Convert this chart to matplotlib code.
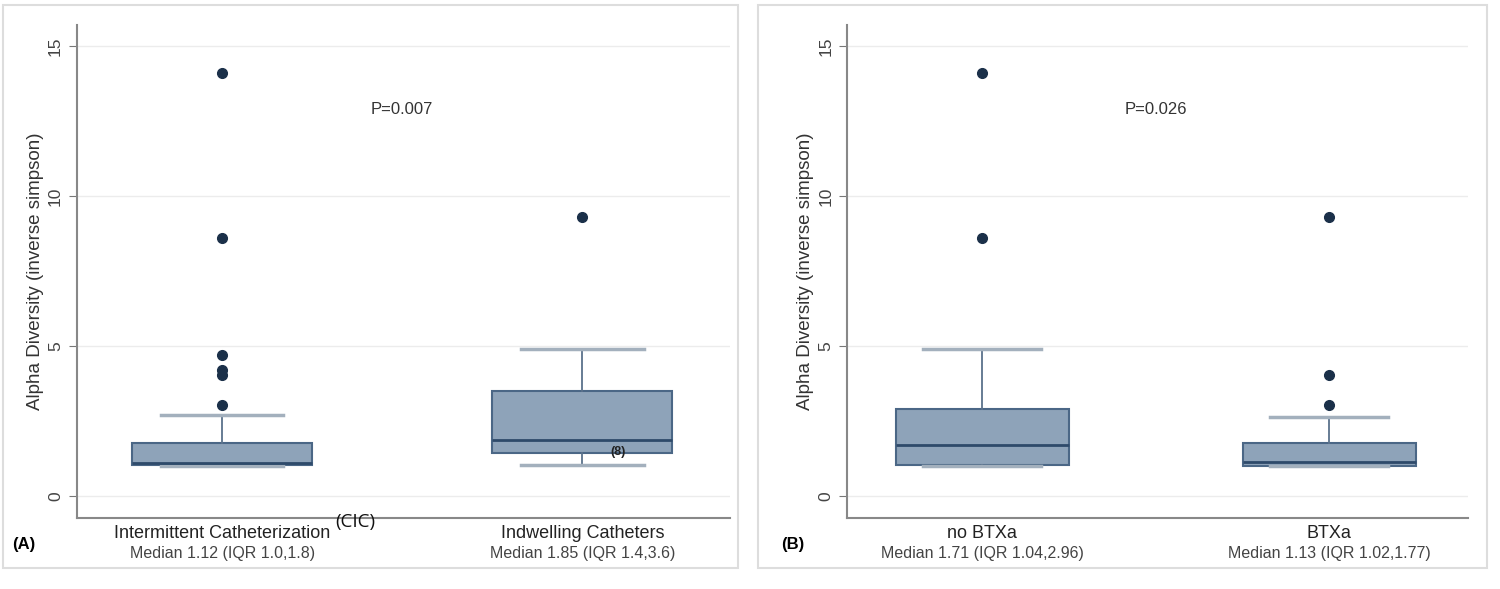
import matplotlib
matplotlib.use('Agg')
import matplotlib.pyplot as plt
from matplotlib.patches import Rectangle

plt.rcParams['font.family'] = ['Liberation Sans', 'DejaVu Sans']

# panel A: catheter type
cath_groups = ['Intermittent Catheterization', 'Indwelling Catheters']
cath_medians = ['Median 1.12 (IQR 1.0,1.8)', 'Median 1.85 (IQR 1.4,3.6)']
cath_whislo = [1.0, 1.03]
cath_q1 = [1.05, 1.43]
cath_med = [1.12, 1.87]
cath_q3 = [1.78, 3.5]
cath_whishi = [2.7, 4.9]
cath_fliers = [[14.1, 8.6, 4.7, 4.2, 4.05, 3.05], [9.3]]
cath_p = 'P=0.007'

# panel B: botox
btx_groups = ['no BTXa', 'BTXa']
btx_medians = ['Median 1.71 (IQR 1.04,2.96)', 'Median 1.13 (IQR 1.02,1.77)']
btx_whislo = [1.0, 1.0]
btx_q1 = [1.04, 1.02]
btx_med = [1.71, 1.13]
btx_q3 = [2.92, 1.77]
btx_whishi = [4.9, 2.65]
btx_fliers = [[14.1, 8.6], [9.3, 4.05, 3.05]]
btx_p = 'P=0.026'

box_fill = '#8ea3b9'
box_edge = '#4b6786'
med_col = '#2e4a6a'
dot_col = '#1b3049'


def make_stats(lo, q1, med, q3, hi, fl):
    return [dict(whislo=lo[i], q1=q1[i], med=med[i], q3=q3[i], whishi=hi[i], fliers=fl[i])
            for i in range(len(med))]


def draw_panel(ax, stats, groups, med_text, ptext, xlim):
    ax.bxp(stats, positions=[1, 2], widths=0.5, capwidths=0.34, patch_artist=True,
           boxprops=dict(facecolor=box_fill, edgecolor=box_edge, linewidth=1.5),
           medianprops=dict(color=med_col, linewidth=2),
           whiskerprops=dict(color='#5b728b', linewidth=1.3),
           capprops=dict(color='#a3b0bd', linewidth=2.5),
           flierprops=dict(marker='o', markerfacecolor=dot_col, markeredgecolor=dot_col,
                           markersize=7))
    ax.set_xlim(xlim)
    ax.set_ylim(-0.73, 15.7)
    ax.set_yticks([0, 5, 10, 15])
    ax.set_yticklabels(['0', '5', '10', '15'], rotation=90, va='center', fontsize=12.5,
                       color='#444444')
    ax.yaxis.grid(True, color='#ececec', linewidth=1)
    ax.set_axisbelow(True)
    ax.set_ylabel('Alpha Diversity (inverse simpson)', fontsize=13.5, color='#333333', labelpad=3)
    ax.set_xticks([1, 2])
    ax.set_xticklabels(groups, fontsize=13, color='#222222')
    ax.tick_params(axis='x', length=0, pad=5)
    ax.tick_params(axis='y', length=6, color='#777777', pad=4)
    for s in ['top', 'right']:
        ax.spines[s].set_visible(False)
    for s in ['left', 'bottom']:
        ax.spines[s].set_color('#888888')
        ax.spines[s].set_linewidth(1.5)
    for i, t in enumerate(med_text):
        ax.text(i + 1, -0.072, t, transform=ax.get_xaxis_transform(), ha='center', va='center',
                fontsize=11.5, color='#444444')
    ax.text(1.5, 12.9, ptext, ha='center', va='center', fontsize=12, color='#333333')


fig = plt.figure(figsize=(15, 5.89), dpi=100)

# panel frames
fig.patches.append(Rectangle((0.002, 0.036), 0.490, 0.956, transform=fig.transFigure,
                             fill=False, edgecolor='#dddddd', linewidth=1.5))
fig.patches.append(Rectangle((0.505, 0.036), 0.486, 0.956, transform=fig.transFigure,
                             fill=False, edgecolor='#dddddd', linewidth=1.5))

ax1 = fig.add_axes([0.0513, 0.1205, 0.4354, 0.837])
draw_panel(ax1, make_stats(cath_whislo, cath_q1, cath_med, cath_q3, cath_whishi, cath_fliers),
           cath_groups, cath_medians, cath_p, (0.597, 2.41))
ax1.text(2.1, 1.47, '(8)', ha='center', va='center', fontsize=9, fontweight='bold', color='#222222')
fig.text(335 / 1500, 1 - 522 / 589, '(CIC)', ha='left', va='center', fontsize=13.5,
         family=['Open Sans', 'DejaVu Sans'], color='#111111')

ax2 = fig.add_axes([0.5647, 0.1205, 0.414, 0.837])
draw_panel(ax2, make_stats(btx_whislo, btx_q1, btx_med, btx_q3, btx_whishi, btx_fliers),
           btx_groups, btx_medians, btx_p, (0.61, 2.40))

fig.text(0.008, 1 - 545 / 589, '(A)', ha='left', va='center', fontsize=12, fontweight='bold')
fig.text(0.521, 1 - 545 / 589, '(B)', ha='left', va='center', fontsize=12, fontweight='bold')

fig.savefig('out.png', dpi=100, facecolor='white')
